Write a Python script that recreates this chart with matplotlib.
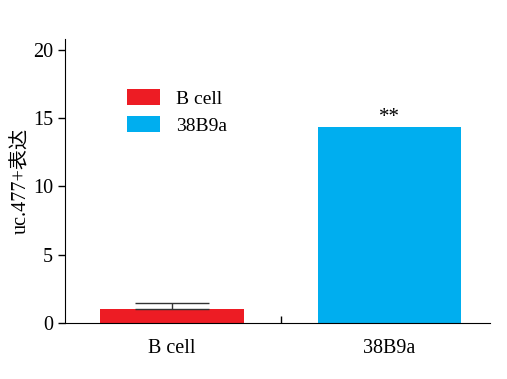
import matplotlib
matplotlib.use('Agg')
import matplotlib.pyplot as plt
import numpy as np

# data
groups = ['B cell', '38B9a']
values = [1.05, 14.39]
err_up = [0.44, 0]
colors = ['#ED1C24', '#00AEEF']
yticks = [0, 5, 10, 15, 20]

plt.rcParams['font.family'] = ['Liberation Serif', 'Noto Sans CJK SC']

fig = plt.figure(figsize=(5.07, 3.79), dpi=100)
ax = fig.add_axes([0.128, 0.148, 0.838, 0.749])

x = np.arange(len(groups))
bars = ax.bar(x, values, width=0.66, color=colors, label=groups, zorder=2)
# only the first bar has a visible (upper) error bar
ax.errorbar(x[:1], values[:1], yerr=[[0], err_up[:1]], fmt='none',
            ecolor='#333333', elinewidth=1, capsize=26.5, capthick=1, zorder=3)
ax.text(x[1], values[1] + 0.0, '**', ha='center', va='bottom', fontsize=15)

ax.set_xlim(-0.49, 1.46)
ax.set_ylim(0, 20.8)
ax.set_yticks(yticks)
ax.set_xticks([0.5])
ax.set_xticklabels([''])
ax.tick_params(axis='x', direction='in', length=5, width=1)
ax.tick_params(axis='y', direction='out', length=5, width=1, labelsize=14.5)
for i, g in enumerate(groups):
    ax.text(x[i], -1.2, g, ha='center', va='top', fontsize=14.5)

ax.spines['top'].set_visible(False)
ax.spines['right'].set_visible(False)
ax.set_ylabel('uc.477+表达', fontsize=14.5, labelpad=1)

ax.legend(handles=bars, labels=groups, loc='upper left', bbox_to_anchor=(0.105, 0.885),
          frameon=False, fontsize=14, handlelength=1.7, handleheight=0.85,
          handletextpad=0.8, labelspacing=0.45)

fig.savefig('out.png', dpi=100)
